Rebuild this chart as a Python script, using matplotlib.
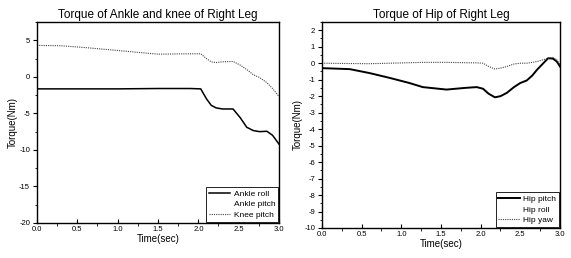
import matplotlib
matplotlib.use("Agg")
import matplotlib.pyplot as plt
import numpy as np
from matplotlib.ticker import MultipleLocator

plt.rcParams['font.family'] = ['Liberation Sans', 'DejaVu Sans']
plt.rcParams['axes.unicode_minus'] = False

# Left panel data (time in sec, torque in Nm)
t_left = [0.0, 0.3, 0.6, 1.0, 1.5, 1.9, 2.03, 2.1, 2.16, 2.22, 2.3, 2.43, 2.52, 2.6, 2.68, 2.76, 2.85, 2.92, 3.0]
ankle_roll = [-1.65, -1.65, -1.65, -1.65, -1.6, -1.6, -1.65, -3.0, -3.9, -4.25, -4.4, -4.4, -5.6, -6.9, -7.35, -7.5, -7.45, -8.0, -9.2]
ankle_pitch = [-1.65, -1.65, -1.65, -1.65, -1.6, -1.6, -1.65, -3.0, -3.9, -4.25, -4.4, -4.4, -5.6, -6.9, -7.35, -7.5, -7.45, -8.0, -9.2]
knee_pitch = [4.3, 4.25, 4.0, 3.6, 3.1, 3.15, 3.15, 2.5, 2.05, 1.95, 2.05, 2.1, 1.6, 1.0, 0.3, -0.1, -0.8, -1.6, -2.7]

# Right panel data
t_right = [0.0, 0.35, 0.6, 0.86, 1.1, 1.27, 1.57, 1.8, 1.95, 2.03, 2.1, 2.18, 2.25, 2.33, 2.42, 2.5, 2.58, 2.65, 2.71, 2.78, 2.85, 2.91, 2.96, 3.0]
hip_pitch = [-0.3, -0.36, -0.6, -0.9, -1.2, -1.45, -1.6, -1.5, -1.45, -1.55, -1.85, -2.07, -2.0, -1.8, -1.45, -1.2, -1.05, -0.75, -0.4, -0.05, 0.3, 0.28, 0.1, -0.2]
hip_roll = [0.0, 0.0, 0.0, 0.0, 0.0, 0.0, 0.0, 0.0, 0.0, 0.0, 0.0, 0.0, 0.0, 0.0, 0.0, 0.0, 0.0, 0.0, 0.0, 0.0, 0.0, 0.0, 0.0, 0.0]
hip_yaw = [0.0, -0.02, -0.03, 0.0, 0.03, 0.05, 0.05, 0.03, 0.02, 0.0, -0.2, -0.35, -0.3, -0.2, -0.05, 0.0, 0.0, 0.05, 0.1, 0.2, 0.3, 0.35, 0.2, -0.1]

xticks = [0.0, 0.5, 1.0, 1.5, 2.0, 2.5, 3.0]
xticklabels = ['0.0', '0.5', '1.0', '1.5', '2.0', '2.5', '3.0']

fig = plt.figure(figsize=(5.71, 2.58), dpi=100)
ax1 = fig.add_axes([37/571, 1-223/258, 242/571, 201/258])
ax2 = fig.add_axes([322/571, 1-228/258, 238/571, 206/258])

ax1.plot(t_left, ankle_pitch, color='white', lw=1.0, zorder=1, label='Ankle pitch')
ax1.plot(t_left, ankle_roll, color='black', lw=1.1, zorder=2, label='Ankle roll')
ax1.plot(t_left, knee_pitch, color='#444444', lw=0.8, ls=(0, (1, 1)), zorder=2, label='Knee pitch')
ax1.set_xlim(0, 3.0)
ax1.set_ylim(-20, 7.5)
ax1.yaxis.set_major_locator(MultipleLocator(5))
ax1.yaxis.set_minor_locator(MultipleLocator(2.5))
ax1.set_title('Torque of Ankle and knee of Right Leg', fontsize=8.5, pad=3)
h, l = ax1.get_legend_handles_labels()
order = [1, 0, 2]
ax1.legend([h[i] for i in order], [l[i] for i in order], loc='lower right', fontsize=6,
           frameon=True, fancybox=False, edgecolor='black', framealpha=1,
           handlelength=2.6, handletextpad=0.4, borderpad=0.3, labelspacing=0.35,
           borderaxespad=0.15).get_frame().set_linewidth(0.6)

ax2.plot(t_right, hip_roll, color='white', lw=1.0, zorder=1, label='Hip roll')
ax2.plot(t_right, hip_pitch, color='black', lw=1.4, zorder=2, label='Hip pitch')
ax2.plot(t_right, hip_yaw, color='#444444', lw=0.8, ls=(0, (1, 1)), zorder=2, label='Hip yaw')
ax2.set_xlim(0, 3.0)
ax2.set_ylim(-10, 2.5)
ax2.yaxis.set_major_locator(MultipleLocator(1))
ax2.yaxis.set_minor_locator(MultipleLocator(0.5))
ax2.set_title('Torque of Hip of Right Leg', fontsize=8.5, pad=3)
h, l = ax2.get_legend_handles_labels()
ax2.legend([h[i] for i in order], [l[i] for i in order], loc='lower right', fontsize=6,
           frameon=True, fancybox=False, edgecolor='black', framealpha=1,
           handlelength=2.6, handletextpad=0.4, borderpad=0.3, labelspacing=0.35,
           borderaxespad=0.15).get_frame().set_linewidth(0.6)

for ax in (ax1, ax2):
    ax.set_xticks(xticks)
    ax.set_xticklabels(xticklabels)
    ax.xaxis.set_minor_locator(MultipleLocator(0.25))
    ax.tick_params(axis='both', which='major', labelsize=5.5, length=3, width=0.8, pad=2)
    ax.tick_params(axis='both', which='minor', length=1.8, width=0.6)
    ax.tick_params(axis='x', direction='in')
    ax.tick_params(axis='y', direction='out')
    for s in ax.spines.values():
        s.set_linewidth(1.0)
    ax.set_xlabel('Time(sec)', fontsize=7, labelpad=1)
    ax.set_ylabel('Torque(Nm)', fontsize=7, labelpad=1)

fig.savefig('out.png', dpi=100)
